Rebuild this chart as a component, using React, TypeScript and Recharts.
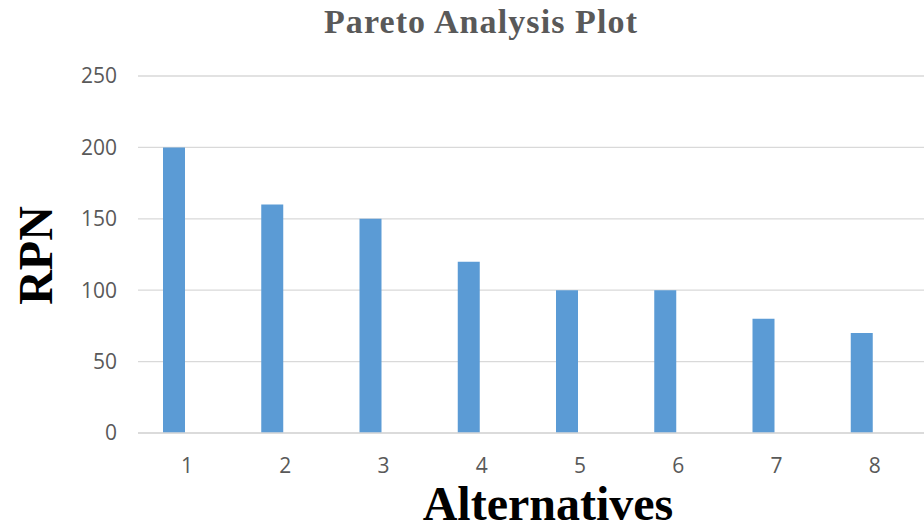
import { BarChart, Bar, XAxis, YAxis, CartesianGrid, Label } from 'recharts';

const alternatives = ['1', '2', '3', '4', '5', '6', '7', '8'];
const rpnValues = [200, 160, 150, 120, 100, 100, 80, 70];
const yTicks = [0, 50, 100, 150, 200, 250];

const data = alternatives.map((name, i) => ({ name, rpn: rpnValues[i], spare: null }));

const tickStyle = { fontSize: 21, fill: '#595959', fontFamily: '"Open Sans", sans-serif' };

function RpnLabel({ viewBox }: any) {
  const cy = viewBox.y + viewBox.height / 2;
  return (
    <text
      x={52}
      y={cy + 1}
      transform={`rotate(-90, 52, ${cy + 1})`}
      textAnchor="middle"
      fontFamily='"Liberation Serif", "Times New Roman", serif'
      fontWeight="bold"
      fontSize={48}
      fill="#000"
    >
      RPN
    </text>
  );
}

export default function App() {
  return (
    <div style={{ position: 'absolute', left: 0, top: 0, width: 924, height: 527, background: '#fff' }}>
      <div
        style={{
          position: 'absolute',
          left: 0,
          width: 962,
          top: 0,
          textAlign: 'center',
          fontFamily: '"Liberation Serif", "Times New Roman", serif',
          fontWeight: 'bold',
          fontSize: 34,
          letterSpacing: 1.1,
          lineHeight: '43px',
          color: '#595959',
        }}
      >
        Pareto Analysis Plot
      </div>
      <BarChart
        width={924}
        height={527}
        data={data}
        margin={{ top: 76, right: 0, bottom: 0, left: 0 }}
        barSize={22}
        barGap={4}
      >
        <CartesianGrid vertical={false} stroke="#d9d9d9" strokeWidth={1.3} />
        <XAxis
          dataKey="name"
          height={94}
          axisLine={{ stroke: '#d9d9d9', strokeWidth: 1.3 }}
          tickLine={false}
          tickSize={0}
          tickMargin={25}
          tick={tickStyle}
        >
          <Label
            value="Alternatives"
            position="insideBottom"
            offset={7}
            dx={17}
            style={{
              fontFamily: '"Liberation Serif", "Times New Roman", serif',
              fontWeight: 'bold',
              fontSize: 48,
              fill: '#000',
            }}
          />
        </XAxis>
        <YAxis
          width={138}
          domain={[0, 250]}
          ticks={yTicks}
          axisLine={false}
          tickLine={false}
          tickSize={0}
          tickMargin={21}
          tick={tickStyle}
        >
          <Label content={RpnLabel} />
        </YAxis>
        <Bar dataKey="rpn" fill="#5b9bd5" isAnimationActive={false} />
        <Bar dataKey="spare" fill="#ed7d31" isAnimationActive={false} />
      </BarChart>
    </div>
  );
}
